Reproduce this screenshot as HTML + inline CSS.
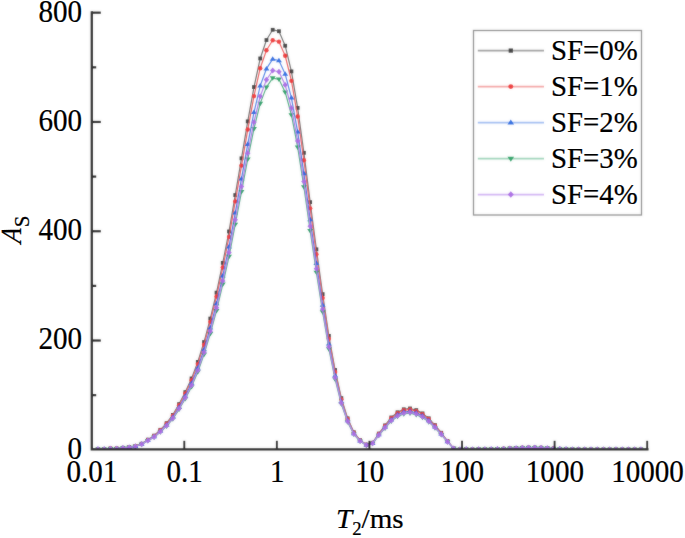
<!DOCTYPE html>
<html><head><meta charset="utf-8"><style>
html,body{margin:0;padding:0;background:#fff;}
svg{display:block;}
text{font-family:"Liberation Serif",serif;font-size:29.1px;fill:#000;stroke:#000;stroke-width:0.22px;}
</style></head><body>
<svg width="685" height="538" viewBox="0 0 685 538">
<defs><filter id="bl" x="0" y="0" width="685" height="538" filterUnits="userSpaceOnUse"><feGaussianBlur stdDeviation="1.0"/></filter></defs>
<g id="all">
<rect width="685" height="538" fill="#fff"/>
<defs><clipPath id="pc"><rect x="92.6" y="0" width="555.4" height="449.2"/></clipPath></defs><g clip-path="url(#pc)"><path d="M91.70,449.13 L97.94,449.07 L104.18,449.07 L110.42,448.47 L116.67,448.47 L122.91,447.82 L129.15,447.16 L135.39,445.96 L141.63,443.72 L147.87,439.68 L154.11,435.65 L160.35,429.81 L166.60,423.15 L172.84,414.91 L179.08,404.10 L185.32,392.09 L191.56,378.45 L197.80,361.91 L204.04,342.04 L210.29,318.57 L216.53,292.65 L222.77,262.85 L229.01,231.46 L235.25,195.06 L241.49,158.32 L247.73,121.37 L253.98,87.04 L260.22,58.44 L266.46,40.05 L272.70,29.79 L278.94,31.21 L285.18,45.73 L291.42,71.38 L297.66,107.89 L303.91,152.81 L310.15,202.15 L316.39,249.31 L322.63,294.12 L328.87,335.87 L335.11,369.99 L341.35,398.09 L347.60,418.29 L353.84,432.26 L360.08,440.18 L366.32,444.60 L372.56,442.74 L378.80,433.57 L385.04,425.38 L391.28,417.47 L397.53,412.29 L403.77,409.28 L410.01,408.46 L416.25,410.10 L422.49,413.38 L428.73,418.29 L434.97,425.11 L441.22,432.75 L447.46,440.94 L453.70,448.42 L459.94,449.40 L466.18,449.13 L472.42,449.40 L478.66,449.24 L484.90,449.24 L491.15,449.13 L497.39,448.96 L503.63,448.75 L509.87,448.42 L516.11,448.09 L522.35,447.76 L528.59,447.54 L534.84,447.54 L541.08,447.76 L547.32,448.09 L553.56,448.53 L559.80,448.85 L566.04,449.13 L572.28,449.29 L578.53,449.40 L584.77,449.40 L591.01,449.40 L597.25,449.40 L603.49,449.40 L609.73,449.40 L615.97,449.40 L622.21,449.40 L628.46,449.40 L634.70,449.40 L640.94,449.40 L647.18,449.40" fill="none" stroke="#6a6a6a" stroke-width="1.2" stroke-linejoin="round"/>
<g><rect x="96.04" y="447.17" width="3.80" height="3.80" fill="#383838"/><rect x="102.28" y="447.17" width="3.80" height="3.80" fill="#383838"/><rect x="108.52" y="446.57" width="3.80" height="3.80" fill="#383838"/><rect x="114.77" y="446.57" width="3.80" height="3.80" fill="#383838"/><rect x="121.01" y="445.92" width="3.80" height="3.80" fill="#383838"/><rect x="127.25" y="445.26" width="3.80" height="3.80" fill="#383838"/><rect x="133.49" y="444.06" width="3.80" height="3.80" fill="#383838"/><rect x="139.73" y="441.82" width="3.80" height="3.80" fill="#383838"/><rect x="145.97" y="437.78" width="3.80" height="3.80" fill="#383838"/><rect x="152.21" y="433.75" width="3.80" height="3.80" fill="#383838"/><rect x="158.45" y="427.91" width="3.80" height="3.80" fill="#383838"/><rect x="164.70" y="421.25" width="3.80" height="3.80" fill="#383838"/><rect x="170.94" y="413.01" width="3.80" height="3.80" fill="#383838"/><rect x="177.18" y="402.20" width="3.80" height="3.80" fill="#383838"/><rect x="183.42" y="390.19" width="3.80" height="3.80" fill="#383838"/><rect x="189.66" y="376.55" width="3.80" height="3.80" fill="#383838"/><rect x="195.90" y="360.01" width="3.80" height="3.80" fill="#383838"/><rect x="202.14" y="340.14" width="3.80" height="3.80" fill="#383838"/><rect x="208.39" y="316.67" width="3.80" height="3.80" fill="#383838"/><rect x="214.63" y="290.75" width="3.80" height="3.80" fill="#383838"/><rect x="220.87" y="260.95" width="3.80" height="3.80" fill="#383838"/><rect x="227.11" y="229.56" width="3.80" height="3.80" fill="#383838"/><rect x="233.35" y="193.16" width="3.80" height="3.80" fill="#383838"/><rect x="239.59" y="156.42" width="3.80" height="3.80" fill="#383838"/><rect x="245.83" y="119.47" width="3.80" height="3.80" fill="#383838"/><rect x="252.08" y="85.14" width="3.80" height="3.80" fill="#383838"/><rect x="258.32" y="56.54" width="3.80" height="3.80" fill="#383838"/><rect x="264.56" y="38.15" width="3.80" height="3.80" fill="#383838"/><rect x="270.80" y="27.89" width="3.80" height="3.80" fill="#383838"/><rect x="277.04" y="29.31" width="3.80" height="3.80" fill="#383838"/><rect x="283.28" y="43.83" width="3.80" height="3.80" fill="#383838"/><rect x="289.52" y="69.48" width="3.80" height="3.80" fill="#383838"/><rect x="295.76" y="105.99" width="3.80" height="3.80" fill="#383838"/><rect x="302.01" y="150.91" width="3.80" height="3.80" fill="#383838"/><rect x="308.25" y="200.25" width="3.80" height="3.80" fill="#383838"/><rect x="314.49" y="247.41" width="3.80" height="3.80" fill="#383838"/><rect x="320.73" y="292.22" width="3.80" height="3.80" fill="#383838"/><rect x="326.97" y="333.97" width="3.80" height="3.80" fill="#383838"/><rect x="333.21" y="368.09" width="3.80" height="3.80" fill="#383838"/><rect x="339.45" y="396.19" width="3.80" height="3.80" fill="#383838"/><rect x="345.70" y="416.39" width="3.80" height="3.80" fill="#383838"/><rect x="351.94" y="430.36" width="3.80" height="3.80" fill="#383838"/><rect x="358.18" y="438.28" width="3.80" height="3.80" fill="#383838"/><rect x="364.42" y="442.70" width="3.80" height="3.80" fill="#383838"/><rect x="370.66" y="440.84" width="3.80" height="3.80" fill="#383838"/><rect x="376.90" y="431.67" width="3.80" height="3.80" fill="#383838"/><rect x="383.14" y="423.48" width="3.80" height="3.80" fill="#383838"/><rect x="389.38" y="415.57" width="3.80" height="3.80" fill="#383838"/><rect x="395.63" y="410.39" width="3.80" height="3.80" fill="#383838"/><rect x="401.87" y="407.38" width="3.80" height="3.80" fill="#383838"/><rect x="408.11" y="406.56" width="3.80" height="3.80" fill="#383838"/><rect x="414.35" y="408.20" width="3.80" height="3.80" fill="#383838"/><rect x="420.59" y="411.48" width="3.80" height="3.80" fill="#383838"/><rect x="426.83" y="416.39" width="3.80" height="3.80" fill="#383838"/><rect x="433.07" y="423.21" width="3.80" height="3.80" fill="#383838"/><rect x="439.32" y="430.85" width="3.80" height="3.80" fill="#383838"/><rect x="445.56" y="439.04" width="3.80" height="3.80" fill="#383838"/><rect x="451.80" y="446.52" width="3.80" height="3.80" fill="#383838"/><rect x="458.04" y="447.50" width="3.80" height="3.80" fill="#383838"/><rect x="464.28" y="447.23" width="3.80" height="3.80" fill="#383838"/><rect x="470.52" y="447.50" width="3.80" height="3.80" fill="#383838"/><rect x="476.76" y="447.34" width="3.80" height="3.80" fill="#383838"/><rect x="483.00" y="447.34" width="3.80" height="3.80" fill="#383838"/><rect x="489.25" y="447.23" width="3.80" height="3.80" fill="#383838"/><rect x="495.49" y="447.06" width="3.80" height="3.80" fill="#383838"/><rect x="501.73" y="446.85" width="3.80" height="3.80" fill="#383838"/><rect x="507.97" y="446.52" width="3.80" height="3.80" fill="#383838"/><rect x="514.21" y="446.19" width="3.80" height="3.80" fill="#383838"/><rect x="520.45" y="445.86" width="3.80" height="3.80" fill="#383838"/><rect x="526.69" y="445.64" width="3.80" height="3.80" fill="#383838"/><rect x="532.94" y="445.64" width="3.80" height="3.80" fill="#383838"/><rect x="539.18" y="445.86" width="3.80" height="3.80" fill="#383838"/><rect x="545.42" y="446.19" width="3.80" height="3.80" fill="#383838"/><rect x="551.66" y="446.63" width="3.80" height="3.80" fill="#383838"/><rect x="557.90" y="446.95" width="3.80" height="3.80" fill="#383838"/><rect x="564.14" y="447.23" width="3.80" height="3.80" fill="#383838"/><rect x="570.38" y="447.39" width="3.80" height="3.80" fill="#383838"/><rect x="576.63" y="447.50" width="3.80" height="3.80" fill="#383838"/><rect x="582.87" y="447.50" width="3.80" height="3.80" fill="#383838"/><rect x="589.11" y="447.50" width="3.80" height="3.80" fill="#383838"/><rect x="595.35" y="447.50" width="3.80" height="3.80" fill="#383838"/><rect x="601.59" y="447.50" width="3.80" height="3.80" fill="#383838"/><rect x="607.83" y="447.50" width="3.80" height="3.80" fill="#383838"/><rect x="614.07" y="447.50" width="3.80" height="3.80" fill="#383838"/><rect x="620.31" y="447.50" width="3.80" height="3.80" fill="#383838"/><rect x="626.56" y="447.50" width="3.80" height="3.80" fill="#383838"/><rect x="632.80" y="447.50" width="3.80" height="3.80" fill="#383838"/><rect x="639.04" y="447.50" width="3.80" height="3.80" fill="#383838"/></g>
<path d="M91.70,449.13 L97.94,449.08 L104.18,449.08 L110.42,448.50 L116.67,448.50 L122.91,447.86 L129.15,447.22 L135.39,446.05 L141.63,443.87 L147.87,439.93 L154.11,435.99 L160.35,430.30 L166.60,423.80 L172.84,415.77 L179.08,405.23 L185.32,393.52 L191.56,380.22 L197.80,364.10 L204.04,344.73 L210.29,321.84 L216.53,296.57 L222.77,267.51 L229.01,236.91 L235.25,201.42 L241.49,165.60 L247.73,129.57 L253.98,96.10 L260.22,68.22 L266.46,50.28 L272.70,40.28 L278.94,41.66 L285.18,55.82 L291.42,80.83 L297.66,116.43 L303.91,160.23 L310.15,208.33 L316.39,254.31 L322.63,298.00 L328.87,338.71 L335.11,371.97 L341.35,399.38 L347.60,419.07 L353.84,432.69 L360.08,440.41 L366.32,444.72 L372.56,442.91 L378.80,433.97 L385.04,425.99 L391.28,418.27 L397.53,413.21 L403.77,410.29 L410.01,409.49 L416.25,411.08 L422.49,414.28 L428.73,419.07 L434.97,425.72 L441.22,433.17 L447.46,441.15 L453.70,448.44 L459.94,449.40 L466.18,449.13 L472.42,449.40 L478.66,449.24 L484.90,449.24 L491.15,449.13 L497.39,448.97 L503.63,448.76 L509.87,448.44 L516.11,448.12 L522.35,447.80 L528.59,447.59 L534.84,447.59 L541.08,447.80 L547.32,448.12 L553.56,448.55 L559.80,448.87 L566.04,449.13 L572.28,449.29 L578.53,449.40 L584.77,449.40 L591.01,449.40 L597.25,449.40 L603.49,449.40 L609.73,449.40 L615.97,449.40 L622.21,449.40 L628.46,449.40 L634.70,449.40 L640.94,449.40 L647.18,449.40" fill="none" stroke="#ee5a5a" stroke-width="1.2" stroke-linejoin="round"/>
<g><circle cx="97.94" cy="449.08" r="2.20" fill="#ee3030"/><circle cx="104.18" cy="449.08" r="2.20" fill="#ee3030"/><circle cx="110.42" cy="448.50" r="2.20" fill="#ee3030"/><circle cx="116.67" cy="448.50" r="2.20" fill="#ee3030"/><circle cx="122.91" cy="447.86" r="2.20" fill="#ee3030"/><circle cx="129.15" cy="447.22" r="2.20" fill="#ee3030"/><circle cx="135.39" cy="446.05" r="2.20" fill="#ee3030"/><circle cx="141.63" cy="443.87" r="2.20" fill="#ee3030"/><circle cx="147.87" cy="439.93" r="2.20" fill="#ee3030"/><circle cx="154.11" cy="435.99" r="2.20" fill="#ee3030"/><circle cx="160.35" cy="430.30" r="2.20" fill="#ee3030"/><circle cx="166.60" cy="423.80" r="2.20" fill="#ee3030"/><circle cx="172.84" cy="415.77" r="2.20" fill="#ee3030"/><circle cx="179.08" cy="405.23" r="2.20" fill="#ee3030"/><circle cx="185.32" cy="393.52" r="2.20" fill="#ee3030"/><circle cx="191.56" cy="380.22" r="2.20" fill="#ee3030"/><circle cx="197.80" cy="364.10" r="2.20" fill="#ee3030"/><circle cx="204.04" cy="344.73" r="2.20" fill="#ee3030"/><circle cx="210.29" cy="321.84" r="2.20" fill="#ee3030"/><circle cx="216.53" cy="296.57" r="2.20" fill="#ee3030"/><circle cx="222.77" cy="267.51" r="2.20" fill="#ee3030"/><circle cx="229.01" cy="236.91" r="2.20" fill="#ee3030"/><circle cx="235.25" cy="201.42" r="2.20" fill="#ee3030"/><circle cx="241.49" cy="165.60" r="2.20" fill="#ee3030"/><circle cx="247.73" cy="129.57" r="2.20" fill="#ee3030"/><circle cx="253.98" cy="96.10" r="2.20" fill="#ee3030"/><circle cx="260.22" cy="68.22" r="2.20" fill="#ee3030"/><circle cx="266.46" cy="50.28" r="2.20" fill="#ee3030"/><circle cx="272.70" cy="40.28" r="2.20" fill="#ee3030"/><circle cx="278.94" cy="41.66" r="2.20" fill="#ee3030"/><circle cx="285.18" cy="55.82" r="2.20" fill="#ee3030"/><circle cx="291.42" cy="80.83" r="2.20" fill="#ee3030"/><circle cx="297.66" cy="116.43" r="2.20" fill="#ee3030"/><circle cx="303.91" cy="160.23" r="2.20" fill="#ee3030"/><circle cx="310.15" cy="208.33" r="2.20" fill="#ee3030"/><circle cx="316.39" cy="254.31" r="2.20" fill="#ee3030"/><circle cx="322.63" cy="298.00" r="2.20" fill="#ee3030"/><circle cx="328.87" cy="338.71" r="2.20" fill="#ee3030"/><circle cx="335.11" cy="371.97" r="2.20" fill="#ee3030"/><circle cx="341.35" cy="399.38" r="2.20" fill="#ee3030"/><circle cx="347.60" cy="419.07" r="2.20" fill="#ee3030"/><circle cx="353.84" cy="432.69" r="2.20" fill="#ee3030"/><circle cx="360.08" cy="440.41" r="2.20" fill="#ee3030"/><circle cx="366.32" cy="444.72" r="2.20" fill="#ee3030"/><circle cx="372.56" cy="442.91" r="2.20" fill="#ee3030"/><circle cx="378.80" cy="433.97" r="2.20" fill="#ee3030"/><circle cx="385.04" cy="425.99" r="2.20" fill="#ee3030"/><circle cx="391.28" cy="418.27" r="2.20" fill="#ee3030"/><circle cx="397.53" cy="413.21" r="2.20" fill="#ee3030"/><circle cx="403.77" cy="410.29" r="2.20" fill="#ee3030"/><circle cx="410.01" cy="409.49" r="2.20" fill="#ee3030"/><circle cx="416.25" cy="411.08" r="2.20" fill="#ee3030"/><circle cx="422.49" cy="414.28" r="2.20" fill="#ee3030"/><circle cx="428.73" cy="419.07" r="2.20" fill="#ee3030"/><circle cx="434.97" cy="425.72" r="2.20" fill="#ee3030"/><circle cx="441.22" cy="433.17" r="2.20" fill="#ee3030"/><circle cx="447.46" cy="441.15" r="2.20" fill="#ee3030"/><circle cx="453.70" cy="448.44" r="2.20" fill="#ee3030"/><circle cx="459.94" cy="449.40" r="2.20" fill="#ee3030"/><circle cx="466.18" cy="449.13" r="2.20" fill="#ee3030"/><circle cx="472.42" cy="449.40" r="2.20" fill="#ee3030"/><circle cx="478.66" cy="449.24" r="2.20" fill="#ee3030"/><circle cx="484.90" cy="449.24" r="2.20" fill="#ee3030"/><circle cx="491.15" cy="449.13" r="2.20" fill="#ee3030"/><circle cx="497.39" cy="448.97" r="2.20" fill="#ee3030"/><circle cx="503.63" cy="448.76" r="2.20" fill="#ee3030"/><circle cx="509.87" cy="448.44" r="2.20" fill="#ee3030"/><circle cx="516.11" cy="448.12" r="2.20" fill="#ee3030"/><circle cx="522.35" cy="447.80" r="2.20" fill="#ee3030"/><circle cx="528.59" cy="447.59" r="2.20" fill="#ee3030"/><circle cx="534.84" cy="447.59" r="2.20" fill="#ee3030"/><circle cx="541.08" cy="447.80" r="2.20" fill="#ee3030"/><circle cx="547.32" cy="448.12" r="2.20" fill="#ee3030"/><circle cx="553.56" cy="448.55" r="2.20" fill="#ee3030"/><circle cx="559.80" cy="448.87" r="2.20" fill="#ee3030"/><circle cx="566.04" cy="449.13" r="2.20" fill="#ee3030"/><circle cx="572.28" cy="449.29" r="2.20" fill="#ee3030"/><circle cx="578.53" cy="449.40" r="2.20" fill="#ee3030"/><circle cx="584.77" cy="449.40" r="2.20" fill="#ee3030"/><circle cx="591.01" cy="449.40" r="2.20" fill="#ee3030"/><circle cx="597.25" cy="449.40" r="2.20" fill="#ee3030"/><circle cx="603.49" cy="449.40" r="2.20" fill="#ee3030"/><circle cx="609.73" cy="449.40" r="2.20" fill="#ee3030"/><circle cx="615.97" cy="449.40" r="2.20" fill="#ee3030"/><circle cx="622.21" cy="449.40" r="2.20" fill="#ee3030"/><circle cx="628.46" cy="449.40" r="2.20" fill="#ee3030"/><circle cx="634.70" cy="449.40" r="2.20" fill="#ee3030"/><circle cx="640.94" cy="449.40" r="2.20" fill="#ee3030"/></g>
<path d="M91.70,449.15 L97.94,449.10 L104.18,449.10 L110.42,448.54 L116.67,448.54 L122.91,447.93 L129.15,447.32 L135.39,446.20 L141.63,444.12 L147.87,440.36 L154.11,436.61 L160.35,431.18 L166.60,424.98 L172.84,417.32 L179.08,407.27 L185.32,396.10 L191.56,383.41 L197.80,368.03 L204.04,349.56 L210.29,327.73 L216.53,303.62 L222.77,275.90 L229.01,246.72 L235.25,212.86 L241.49,178.70 L247.73,144.34 L253.98,112.41 L260.22,85.81 L266.46,68.70 L272.70,59.16 L278.94,60.48 L285.18,73.98 L291.42,97.84 L297.66,131.80 L303.91,173.57 L310.15,219.46 L316.39,263.32 L322.63,304.99 L328.87,343.82 L335.11,375.55 L341.35,401.69 L347.60,420.47 L353.84,433.46 L360.08,440.82 L366.32,444.93 L372.56,443.21 L378.80,434.68 L385.04,427.07 L391.28,419.71 L397.53,414.88 L403.77,412.09 L410.01,411.33 L416.25,412.85 L422.49,415.90 L428.73,420.47 L434.97,426.81 L441.22,433.92 L447.46,441.53 L453.70,448.49 L459.94,449.40 L466.18,449.15 L472.42,449.40 L478.66,449.25 L484.90,449.25 L491.15,449.15 L497.39,448.99 L503.63,448.79 L509.87,448.49 L516.11,448.18 L522.35,447.88 L528.59,447.67 L534.84,447.67 L541.08,447.88 L547.32,448.18 L553.56,448.59 L559.80,448.89 L566.04,449.15 L572.28,449.30 L578.53,449.40 L584.77,449.40 L591.01,449.40 L597.25,449.40 L603.49,449.40 L609.73,449.40 L615.97,449.40 L622.21,449.40 L628.46,449.40 L634.70,449.40 L640.94,449.40 L647.18,449.40" fill="none" stroke="#4a80e6" stroke-width="1.2" stroke-linejoin="round"/>
<g><path d="M97.94,446.30L100.88,450.78L95.00,450.78Z" fill="#2066e0"/><path d="M104.18,446.30L107.12,450.78L101.24,450.78Z" fill="#2066e0"/><path d="M110.42,445.74L113.36,450.22L107.48,450.22Z" fill="#2066e0"/><path d="M116.67,445.74L119.61,450.22L113.73,450.22Z" fill="#2066e0"/><path d="M122.91,445.13L125.85,449.61L119.97,449.61Z" fill="#2066e0"/><path d="M129.15,444.52L132.09,449.00L126.21,449.00Z" fill="#2066e0"/><path d="M135.39,443.40L138.33,447.88L132.45,447.88Z" fill="#2066e0"/><path d="M141.63,441.32L144.57,445.80L138.69,445.80Z" fill="#2066e0"/><path d="M147.87,437.56L150.81,442.04L144.93,442.04Z" fill="#2066e0"/><path d="M154.11,433.81L157.05,438.29L151.17,438.29Z" fill="#2066e0"/><path d="M160.35,428.38L163.29,432.86L157.41,432.86Z" fill="#2066e0"/><path d="M166.60,422.18L169.54,426.66L163.66,426.66Z" fill="#2066e0"/><path d="M172.84,414.52L175.78,419.00L169.90,419.00Z" fill="#2066e0"/><path d="M179.08,404.47L182.02,408.95L176.14,408.95Z" fill="#2066e0"/><path d="M185.32,393.30L188.26,397.78L182.38,397.78Z" fill="#2066e0"/><path d="M191.56,380.61L194.50,385.09L188.62,385.09Z" fill="#2066e0"/><path d="M197.80,365.23L200.74,369.71L194.86,369.71Z" fill="#2066e0"/><path d="M204.04,346.76L206.98,351.24L201.10,351.24Z" fill="#2066e0"/><path d="M210.29,324.93L213.23,329.41L207.35,329.41Z" fill="#2066e0"/><path d="M216.53,300.82L219.47,305.30L213.59,305.30Z" fill="#2066e0"/><path d="M222.77,273.10L225.71,277.58L219.83,277.58Z" fill="#2066e0"/><path d="M229.01,243.92L231.95,248.40L226.07,248.40Z" fill="#2066e0"/><path d="M235.25,210.06L238.19,214.54L232.31,214.54Z" fill="#2066e0"/><path d="M241.49,175.90L244.43,180.38L238.55,180.38Z" fill="#2066e0"/><path d="M247.73,141.54L250.67,146.02L244.79,146.02Z" fill="#2066e0"/><path d="M253.98,109.61L256.92,114.09L251.04,114.09Z" fill="#2066e0"/><path d="M260.22,83.01L263.16,87.49L257.28,87.49Z" fill="#2066e0"/><path d="M266.46,65.90L269.40,70.38L263.52,70.38Z" fill="#2066e0"/><path d="M272.70,56.36L275.64,60.84L269.76,60.84Z" fill="#2066e0"/><path d="M278.94,57.68L281.88,62.16L276.00,62.16Z" fill="#2066e0"/><path d="M285.18,71.18L288.12,75.66L282.24,75.66Z" fill="#2066e0"/><path d="M291.42,95.04L294.36,99.52L288.48,99.52Z" fill="#2066e0"/><path d="M297.66,129.00L300.60,133.48L294.72,133.48Z" fill="#2066e0"/><path d="M303.91,170.77L306.85,175.25L300.97,175.25Z" fill="#2066e0"/><path d="M310.15,216.66L313.09,221.14L307.21,221.14Z" fill="#2066e0"/><path d="M316.39,260.52L319.33,265.00L313.45,265.00Z" fill="#2066e0"/><path d="M322.63,302.19L325.57,306.67L319.69,306.67Z" fill="#2066e0"/><path d="M328.87,341.02L331.81,345.50L325.93,345.50Z" fill="#2066e0"/><path d="M335.11,372.75L338.05,377.23L332.17,377.23Z" fill="#2066e0"/><path d="M341.35,398.89L344.29,403.37L338.41,403.37Z" fill="#2066e0"/><path d="M347.60,417.67L350.54,422.15L344.66,422.15Z" fill="#2066e0"/><path d="M353.84,430.66L356.78,435.14L350.90,435.14Z" fill="#2066e0"/><path d="M360.08,438.02L363.02,442.50L357.14,442.50Z" fill="#2066e0"/><path d="M366.32,442.13L369.26,446.61L363.38,446.61Z" fill="#2066e0"/><path d="M372.56,440.41L375.50,444.89L369.62,444.89Z" fill="#2066e0"/><path d="M378.80,431.88L381.74,436.36L375.86,436.36Z" fill="#2066e0"/><path d="M385.04,424.27L387.98,428.75L382.10,428.75Z" fill="#2066e0"/><path d="M391.28,416.91L394.22,421.39L388.34,421.39Z" fill="#2066e0"/><path d="M397.53,412.08L400.47,416.56L394.59,416.56Z" fill="#2066e0"/><path d="M403.77,409.29L406.71,413.77L400.83,413.77Z" fill="#2066e0"/><path d="M410.01,408.53L412.95,413.01L407.07,413.01Z" fill="#2066e0"/><path d="M416.25,410.05L419.19,414.53L413.31,414.53Z" fill="#2066e0"/><path d="M422.49,413.10L425.43,417.58L419.55,417.58Z" fill="#2066e0"/><path d="M428.73,417.67L431.67,422.15L425.79,422.15Z" fill="#2066e0"/><path d="M434.97,424.01L437.91,428.49L432.03,428.49Z" fill="#2066e0"/><path d="M441.22,431.12L444.16,435.60L438.28,435.60Z" fill="#2066e0"/><path d="M447.46,438.73L450.40,443.21L444.52,443.21Z" fill="#2066e0"/><path d="M453.70,445.69L456.64,450.17L450.76,450.17Z" fill="#2066e0"/><path d="M459.94,446.60L462.88,451.08L457.00,451.08Z" fill="#2066e0"/><path d="M466.18,446.35L469.12,450.83L463.24,450.83Z" fill="#2066e0"/><path d="M472.42,446.60L475.36,451.08L469.48,451.08Z" fill="#2066e0"/><path d="M478.66,446.45L481.60,450.93L475.72,450.93Z" fill="#2066e0"/><path d="M484.90,446.45L487.84,450.93L481.96,450.93Z" fill="#2066e0"/><path d="M491.15,446.35L494.09,450.83L488.21,450.83Z" fill="#2066e0"/><path d="M497.39,446.19L500.33,450.67L494.45,450.67Z" fill="#2066e0"/><path d="M503.63,445.99L506.57,450.47L500.69,450.47Z" fill="#2066e0"/><path d="M509.87,445.69L512.81,450.17L506.93,450.17Z" fill="#2066e0"/><path d="M516.11,445.38L519.05,449.86L513.17,449.86Z" fill="#2066e0"/><path d="M522.35,445.08L525.29,449.56L519.41,449.56Z" fill="#2066e0"/><path d="M528.59,444.87L531.53,449.35L525.65,449.35Z" fill="#2066e0"/><path d="M534.84,444.87L537.78,449.35L531.90,449.35Z" fill="#2066e0"/><path d="M541.08,445.08L544.02,449.56L538.14,449.56Z" fill="#2066e0"/><path d="M547.32,445.38L550.26,449.86L544.38,449.86Z" fill="#2066e0"/><path d="M553.56,445.79L556.50,450.27L550.62,450.27Z" fill="#2066e0"/><path d="M559.80,446.09L562.74,450.57L556.86,450.57Z" fill="#2066e0"/><path d="M566.04,446.35L568.98,450.83L563.10,450.83Z" fill="#2066e0"/><path d="M572.28,446.50L575.22,450.98L569.34,450.98Z" fill="#2066e0"/><path d="M578.53,446.60L581.47,451.08L575.59,451.08Z" fill="#2066e0"/><path d="M584.77,446.60L587.71,451.08L581.83,451.08Z" fill="#2066e0"/><path d="M591.01,446.60L593.95,451.08L588.07,451.08Z" fill="#2066e0"/><path d="M597.25,446.60L600.19,451.08L594.31,451.08Z" fill="#2066e0"/><path d="M603.49,446.60L606.43,451.08L600.55,451.08Z" fill="#2066e0"/><path d="M609.73,446.60L612.67,451.08L606.79,451.08Z" fill="#2066e0"/><path d="M615.97,446.60L618.91,451.08L613.03,451.08Z" fill="#2066e0"/><path d="M622.21,446.60L625.15,451.08L619.27,451.08Z" fill="#2066e0"/><path d="M628.46,446.60L631.40,451.08L625.52,451.08Z" fill="#2066e0"/><path d="M634.70,446.60L637.64,451.08L631.76,451.08Z" fill="#2066e0"/><path d="M640.94,446.60L643.88,451.08L638.00,451.08Z" fill="#2066e0"/></g>
<path d="M91.70,449.16 L97.94,449.11 L104.18,449.11 L110.42,448.58 L116.67,448.58 L122.91,448.00 L129.15,447.42 L135.39,446.36 L141.63,444.38 L147.87,440.80 L154.11,437.23 L160.35,432.06 L166.60,426.17 L172.84,418.87 L179.08,409.31 L185.32,398.68 L191.56,386.61 L197.80,371.97 L204.04,354.39 L210.29,333.62 L216.53,310.67 L222.77,284.30 L229.01,256.52 L235.25,224.31 L241.49,191.80 L247.73,159.10 L253.98,128.71 L260.22,103.40 L266.46,87.13 L272.70,78.04 L278.94,79.30 L285.18,92.15 L291.42,114.85 L297.66,147.17 L303.91,186.92 L310.15,230.59 L316.39,272.32 L322.63,311.98 L328.87,348.93 L335.11,379.12 L341.35,403.99 L347.60,421.87 L353.84,434.23 L360.08,441.24 L366.32,445.15 L372.56,443.51 L378.80,435.39 L385.04,428.15 L391.28,421.14 L397.53,416.55 L403.77,413.90 L410.01,413.17 L416.25,414.62 L422.49,417.52 L428.73,421.87 L434.97,427.91 L441.22,434.67 L447.46,441.91 L453.70,448.53 L459.94,449.40 L466.18,449.16 L472.42,449.40 L478.66,449.26 L484.90,449.26 L491.15,449.16 L497.39,449.01 L503.63,448.82 L509.87,448.53 L516.11,448.24 L522.35,447.95 L528.59,447.76 L534.84,447.76 L541.08,447.95 L547.32,448.24 L553.56,448.63 L559.80,448.92 L566.04,449.16 L572.28,449.30 L578.53,449.40 L584.77,449.40 L591.01,449.40 L597.25,449.40 L603.49,449.40 L609.73,449.40 L615.97,449.40 L622.21,449.40 L628.46,449.40 L634.70,449.40 L640.94,449.40 L647.18,449.40" fill="none" stroke="#4aae7e" stroke-width="1.2" stroke-linejoin="round"/>
<g><path d="M97.94,451.91L100.88,447.43L95.00,447.43Z" fill="#22a062"/><path d="M104.18,451.91L107.12,447.43L101.24,447.43Z" fill="#22a062"/><path d="M110.42,451.38L113.36,446.90L107.48,446.90Z" fill="#22a062"/><path d="M116.67,451.38L119.61,446.90L113.73,446.90Z" fill="#22a062"/><path d="M122.91,450.80L125.85,446.32L119.97,446.32Z" fill="#22a062"/><path d="M129.15,450.22L132.09,445.74L126.21,445.74Z" fill="#22a062"/><path d="M135.39,449.16L138.33,444.68L132.45,444.68Z" fill="#22a062"/><path d="M141.63,447.18L144.57,442.70L138.69,442.70Z" fill="#22a062"/><path d="M147.87,443.60L150.81,439.12L144.93,439.12Z" fill="#22a062"/><path d="M154.11,440.03L157.05,435.55L151.17,435.55Z" fill="#22a062"/><path d="M160.35,434.86L163.29,430.38L157.41,430.38Z" fill="#22a062"/><path d="M166.60,428.97L169.54,424.49L163.66,424.49Z" fill="#22a062"/><path d="M172.84,421.67L175.78,417.19L169.90,417.19Z" fill="#22a062"/><path d="M179.08,412.11L182.02,407.63L176.14,407.63Z" fill="#22a062"/><path d="M185.32,401.48L188.26,397.00L182.38,397.00Z" fill="#22a062"/><path d="M191.56,389.41L194.50,384.93L188.62,384.93Z" fill="#22a062"/><path d="M197.80,374.77L200.74,370.29L194.86,370.29Z" fill="#22a062"/><path d="M204.04,357.19L206.98,352.71L201.10,352.71Z" fill="#22a062"/><path d="M210.29,336.42L213.23,331.94L207.35,331.94Z" fill="#22a062"/><path d="M216.53,313.47L219.47,308.99L213.59,308.99Z" fill="#22a062"/><path d="M222.77,287.10L225.71,282.62L219.83,282.62Z" fill="#22a062"/><path d="M229.01,259.32L231.95,254.84L226.07,254.84Z" fill="#22a062"/><path d="M235.25,227.11L238.19,222.63L232.31,222.63Z" fill="#22a062"/><path d="M241.49,194.60L244.43,190.12L238.55,190.12Z" fill="#22a062"/><path d="M247.73,161.90L250.67,157.42L244.79,157.42Z" fill="#22a062"/><path d="M253.98,131.51L256.92,127.03L251.04,127.03Z" fill="#22a062"/><path d="M260.22,106.20L263.16,101.72L257.28,101.72Z" fill="#22a062"/><path d="M266.46,89.93L269.40,85.45L263.52,85.45Z" fill="#22a062"/><path d="M272.70,80.84L275.64,76.36L269.76,76.36Z" fill="#22a062"/><path d="M278.94,82.10L281.88,77.62L276.00,77.62Z" fill="#22a062"/><path d="M285.18,94.95L288.12,90.47L282.24,90.47Z" fill="#22a062"/><path d="M291.42,117.65L294.36,113.17L288.48,113.17Z" fill="#22a062"/><path d="M297.66,149.97L300.60,145.49L294.72,145.49Z" fill="#22a062"/><path d="M303.91,189.72L306.85,185.24L300.97,185.24Z" fill="#22a062"/><path d="M310.15,233.39L313.09,228.91L307.21,228.91Z" fill="#22a062"/><path d="M316.39,275.12L319.33,270.64L313.45,270.64Z" fill="#22a062"/><path d="M322.63,314.78L325.57,310.30L319.69,310.30Z" fill="#22a062"/><path d="M328.87,351.73L331.81,347.25L325.93,347.25Z" fill="#22a062"/><path d="M335.11,381.92L338.05,377.44L332.17,377.44Z" fill="#22a062"/><path d="M341.35,406.79L344.29,402.31L338.41,402.31Z" fill="#22a062"/><path d="M347.60,424.67L350.54,420.19L344.66,420.19Z" fill="#22a062"/><path d="M353.84,437.03L356.78,432.55L350.90,432.55Z" fill="#22a062"/><path d="M360.08,444.04L363.02,439.56L357.14,439.56Z" fill="#22a062"/><path d="M366.32,447.95L369.26,443.47L363.38,443.47Z" fill="#22a062"/><path d="M372.56,446.31L375.50,441.83L369.62,441.83Z" fill="#22a062"/><path d="M378.80,438.19L381.74,433.71L375.86,433.71Z" fill="#22a062"/><path d="M385.04,430.95L387.98,426.47L382.10,426.47Z" fill="#22a062"/><path d="M391.28,423.94L394.22,419.46L388.34,419.46Z" fill="#22a062"/><path d="M397.53,419.35L400.47,414.87L394.59,414.87Z" fill="#22a062"/><path d="M403.77,416.70L406.71,412.22L400.83,412.22Z" fill="#22a062"/><path d="M410.01,415.97L412.95,411.49L407.07,411.49Z" fill="#22a062"/><path d="M416.25,417.42L419.19,412.94L413.31,412.94Z" fill="#22a062"/><path d="M422.49,420.32L425.43,415.84L419.55,415.84Z" fill="#22a062"/><path d="M428.73,424.67L431.67,420.19L425.79,420.19Z" fill="#22a062"/><path d="M434.97,430.71L437.91,426.23L432.03,426.23Z" fill="#22a062"/><path d="M441.22,437.47L444.16,432.99L438.28,432.99Z" fill="#22a062"/><path d="M447.46,444.71L450.40,440.23L444.52,440.23Z" fill="#22a062"/><path d="M453.70,451.33L456.64,446.85L450.76,446.85Z" fill="#22a062"/><path d="M459.94,452.20L462.88,447.72L457.00,447.72Z" fill="#22a062"/><path d="M466.18,451.96L469.12,447.48L463.24,447.48Z" fill="#22a062"/><path d="M472.42,452.20L475.36,447.72L469.48,447.72Z" fill="#22a062"/><path d="M478.66,452.06L481.60,447.58L475.72,447.58Z" fill="#22a062"/><path d="M484.90,452.06L487.84,447.58L481.96,447.58Z" fill="#22a062"/><path d="M491.15,451.96L494.09,447.48L488.21,447.48Z" fill="#22a062"/><path d="M497.39,451.81L500.33,447.33L494.45,447.33Z" fill="#22a062"/><path d="M503.63,451.62L506.57,447.14L500.69,447.14Z" fill="#22a062"/><path d="M509.87,451.33L512.81,446.85L506.93,446.85Z" fill="#22a062"/><path d="M516.11,451.04L519.05,446.56L513.17,446.56Z" fill="#22a062"/><path d="M522.35,450.75L525.29,446.27L519.41,446.27Z" fill="#22a062"/><path d="M528.59,450.56L531.53,446.08L525.65,446.08Z" fill="#22a062"/><path d="M534.84,450.56L537.78,446.08L531.90,446.08Z" fill="#22a062"/><path d="M541.08,450.75L544.02,446.27L538.14,446.27Z" fill="#22a062"/><path d="M547.32,451.04L550.26,446.56L544.38,446.56Z" fill="#22a062"/><path d="M553.56,451.43L556.50,446.95L550.62,446.95Z" fill="#22a062"/><path d="M559.80,451.72L562.74,447.24L556.86,447.24Z" fill="#22a062"/><path d="M566.04,451.96L568.98,447.48L563.10,447.48Z" fill="#22a062"/><path d="M572.28,452.10L575.22,447.62L569.34,447.62Z" fill="#22a062"/><path d="M578.53,452.20L581.47,447.72L575.59,447.72Z" fill="#22a062"/><path d="M584.77,452.20L587.71,447.72L581.83,447.72Z" fill="#22a062"/><path d="M591.01,452.20L593.95,447.72L588.07,447.72Z" fill="#22a062"/><path d="M597.25,452.20L600.19,447.72L594.31,447.72Z" fill="#22a062"/><path d="M603.49,452.20L606.43,447.72L600.55,447.72Z" fill="#22a062"/><path d="M609.73,452.20L612.67,447.72L606.79,447.72Z" fill="#22a062"/><path d="M615.97,452.20L618.91,447.72L613.03,447.72Z" fill="#22a062"/><path d="M622.21,452.20L625.15,447.72L619.27,447.72Z" fill="#22a062"/><path d="M628.46,452.20L631.40,447.72L625.52,447.72Z" fill="#22a062"/><path d="M634.70,452.20L637.64,447.72L631.76,447.72Z" fill="#22a062"/><path d="M640.94,452.20L643.88,447.72L638.00,447.72Z" fill="#22a062"/></g>
<path d="M91.70,449.15 L97.94,449.10 L104.18,449.10 L110.42,448.56 L116.67,448.56 L122.91,447.97 L129.15,447.38 L135.39,446.29 L141.63,444.27 L147.87,440.63 L154.11,436.98 L160.35,431.71 L166.60,425.69 L172.84,418.25 L179.08,408.49 L185.32,397.65 L191.56,385.33 L197.80,370.39 L204.04,352.45 L210.29,331.26 L216.53,307.85 L222.77,280.94 L229.01,252.60 L235.25,219.73 L241.49,186.56 L247.73,153.19 L253.98,122.19 L260.22,96.37 L266.46,79.76 L272.70,70.49 L278.94,71.77 L285.18,84.88 L291.42,108.05 L297.66,141.02 L303.91,181.58 L310.15,226.14 L316.39,268.72 L322.63,309.18 L328.87,346.89 L335.11,377.69 L341.35,403.07 L347.60,421.31 L353.84,433.92 L360.08,441.07 L366.32,445.06 L372.56,443.39 L378.80,435.11 L385.04,427.71 L391.28,420.57 L397.53,415.89 L403.77,413.17 L410.01,412.44 L416.25,413.91 L422.49,416.87 L428.73,421.31 L434.97,427.47 L441.22,434.37 L447.46,441.76 L453.70,448.51 L459.94,449.40 L466.18,449.15 L472.42,449.40 L478.66,449.25 L484.90,449.25 L491.15,449.15 L497.39,449.01 L503.63,448.81 L509.87,448.51 L516.11,448.22 L522.35,447.92 L528.59,447.72 L534.84,447.72 L541.08,447.92 L547.32,448.22 L553.56,448.61 L559.80,448.91 L566.04,449.15 L572.28,449.30 L578.53,449.40 L584.77,449.40 L591.01,449.40 L597.25,449.40 L603.49,449.40 L609.73,449.40 L615.97,449.40 L622.21,449.40 L628.46,449.40 L634.70,449.40 L640.94,449.40 L647.18,449.40" fill="none" stroke="#b27ee8" stroke-width="1.2" stroke-linejoin="round"/>
<g><path d="M97.94,446.20L100.64,449.10L97.94,452.00L95.24,449.10Z" fill="#aa6ae4"/><path d="M104.18,446.20L106.88,449.10L104.18,452.00L101.48,449.10Z" fill="#aa6ae4"/><path d="M110.42,445.66L113.12,448.56L110.42,451.46L107.72,448.56Z" fill="#aa6ae4"/><path d="M116.67,445.66L119.37,448.56L116.67,451.46L113.97,448.56Z" fill="#aa6ae4"/><path d="M122.91,445.07L125.61,447.97L122.91,450.87L120.21,447.97Z" fill="#aa6ae4"/><path d="M129.15,444.48L131.85,447.38L129.15,450.28L126.45,447.38Z" fill="#aa6ae4"/><path d="M135.39,443.39L138.09,446.29L135.39,449.19L132.69,446.29Z" fill="#aa6ae4"/><path d="M141.63,441.37L144.33,444.27L141.63,447.17L138.93,444.27Z" fill="#aa6ae4"/><path d="M147.87,437.73L150.57,440.63L147.87,443.53L145.17,440.63Z" fill="#aa6ae4"/><path d="M154.11,434.08L156.81,436.98L154.11,439.88L151.41,436.98Z" fill="#aa6ae4"/><path d="M160.35,428.81L163.05,431.71L160.35,434.61L157.65,431.71Z" fill="#aa6ae4"/><path d="M166.60,422.79L169.30,425.69L166.60,428.59L163.90,425.69Z" fill="#aa6ae4"/><path d="M172.84,415.35L175.54,418.25L172.84,421.15L170.14,418.25Z" fill="#aa6ae4"/><path d="M179.08,405.59L181.78,408.49L179.08,411.39L176.38,408.49Z" fill="#aa6ae4"/><path d="M185.32,394.75L188.02,397.65L185.32,400.55L182.62,397.65Z" fill="#aa6ae4"/><path d="M191.56,382.43L194.26,385.33L191.56,388.23L188.86,385.33Z" fill="#aa6ae4"/><path d="M197.80,367.49L200.50,370.39L197.80,373.29L195.10,370.39Z" fill="#aa6ae4"/><path d="M204.04,349.55L206.74,352.45L204.04,355.35L201.34,352.45Z" fill="#aa6ae4"/><path d="M210.29,328.36L212.99,331.26L210.29,334.16L207.59,331.26Z" fill="#aa6ae4"/><path d="M216.53,304.95L219.23,307.85L216.53,310.75L213.83,307.85Z" fill="#aa6ae4"/><path d="M222.77,278.04L225.47,280.94L222.77,283.84L220.07,280.94Z" fill="#aa6ae4"/><path d="M229.01,249.70L231.71,252.60L229.01,255.50L226.31,252.60Z" fill="#aa6ae4"/><path d="M235.25,216.83L237.95,219.73L235.25,222.63L232.55,219.73Z" fill="#aa6ae4"/><path d="M241.49,183.66L244.19,186.56L241.49,189.46L238.79,186.56Z" fill="#aa6ae4"/><path d="M247.73,150.29L250.43,153.19L247.73,156.09L245.03,153.19Z" fill="#aa6ae4"/><path d="M253.98,119.29L256.68,122.19L253.98,125.09L251.28,122.19Z" fill="#aa6ae4"/><path d="M260.22,93.47L262.92,96.37L260.22,99.27L257.52,96.37Z" fill="#aa6ae4"/><path d="M266.46,76.86L269.16,79.76L266.46,82.66L263.76,79.76Z" fill="#aa6ae4"/><path d="M272.70,67.59L275.40,70.49L272.70,73.39L270.00,70.49Z" fill="#aa6ae4"/><path d="M278.94,68.87L281.64,71.77L278.94,74.67L276.24,71.77Z" fill="#aa6ae4"/><path d="M285.18,81.98L287.88,84.88L285.18,87.78L282.48,84.88Z" fill="#aa6ae4"/><path d="M291.42,105.15L294.12,108.05L291.42,110.95L288.72,108.05Z" fill="#aa6ae4"/><path d="M297.66,138.12L300.36,141.02L297.66,143.92L294.96,141.02Z" fill="#aa6ae4"/><path d="M303.91,178.68L306.61,181.58L303.91,184.48L301.21,181.58Z" fill="#aa6ae4"/><path d="M310.15,223.24L312.85,226.14L310.15,229.04L307.45,226.14Z" fill="#aa6ae4"/><path d="M316.39,265.82L319.09,268.72L316.39,271.62L313.69,268.72Z" fill="#aa6ae4"/><path d="M322.63,306.28L325.33,309.18L322.63,312.08L319.93,309.18Z" fill="#aa6ae4"/><path d="M328.87,343.99L331.57,346.89L328.87,349.79L326.17,346.89Z" fill="#aa6ae4"/><path d="M335.11,374.79L337.81,377.69L335.11,380.59L332.41,377.69Z" fill="#aa6ae4"/><path d="M341.35,400.17L344.05,403.07L341.35,405.97L338.65,403.07Z" fill="#aa6ae4"/><path d="M347.60,418.41L350.30,421.31L347.60,424.21L344.90,421.31Z" fill="#aa6ae4"/><path d="M353.84,431.02L356.54,433.92L353.84,436.82L351.14,433.92Z" fill="#aa6ae4"/><path d="M360.08,438.17L362.78,441.07L360.08,443.97L357.38,441.07Z" fill="#aa6ae4"/><path d="M366.32,442.16L369.02,445.06L366.32,447.96L363.62,445.06Z" fill="#aa6ae4"/><path d="M372.56,440.49L375.26,443.39L372.56,446.29L369.86,443.39Z" fill="#aa6ae4"/><path d="M378.80,432.21L381.50,435.11L378.80,438.01L376.10,435.11Z" fill="#aa6ae4"/><path d="M385.04,424.81L387.74,427.71L385.04,430.61L382.34,427.71Z" fill="#aa6ae4"/><path d="M391.28,417.67L393.98,420.57L391.28,423.47L388.58,420.57Z" fill="#aa6ae4"/><path d="M397.53,412.99L400.23,415.89L397.53,418.79L394.83,415.89Z" fill="#aa6ae4"/><path d="M403.77,410.27L406.47,413.17L403.77,416.07L401.07,413.17Z" fill="#aa6ae4"/><path d="M410.01,409.54L412.71,412.44L410.01,415.34L407.31,412.44Z" fill="#aa6ae4"/><path d="M416.25,411.01L418.95,413.91L416.25,416.81L413.55,413.91Z" fill="#aa6ae4"/><path d="M422.49,413.97L425.19,416.87L422.49,419.77L419.79,416.87Z" fill="#aa6ae4"/><path d="M428.73,418.41L431.43,421.31L428.73,424.21L426.03,421.31Z" fill="#aa6ae4"/><path d="M434.97,424.57L437.67,427.47L434.97,430.37L432.27,427.47Z" fill="#aa6ae4"/><path d="M441.22,431.47L443.92,434.37L441.22,437.27L438.52,434.37Z" fill="#aa6ae4"/><path d="M447.46,438.86L450.16,441.76L447.46,444.66L444.76,441.76Z" fill="#aa6ae4"/><path d="M453.70,445.61L456.40,448.51L453.70,451.41L451.00,448.51Z" fill="#aa6ae4"/><path d="M459.94,446.50L462.64,449.40L459.94,452.30L457.24,449.40Z" fill="#aa6ae4"/><path d="M466.18,446.25L468.88,449.15L466.18,452.05L463.48,449.15Z" fill="#aa6ae4"/><path d="M472.42,446.50L475.12,449.40L472.42,452.30L469.72,449.40Z" fill="#aa6ae4"/><path d="M478.66,446.35L481.36,449.25L478.66,452.15L475.96,449.25Z" fill="#aa6ae4"/><path d="M484.90,446.35L487.60,449.25L484.90,452.15L482.20,449.25Z" fill="#aa6ae4"/><path d="M491.15,446.25L493.85,449.15L491.15,452.05L488.45,449.15Z" fill="#aa6ae4"/><path d="M497.39,446.11L500.09,449.01L497.39,451.91L494.69,449.01Z" fill="#aa6ae4"/><path d="M503.63,445.91L506.33,448.81L503.63,451.71L500.93,448.81Z" fill="#aa6ae4"/><path d="M509.87,445.61L512.57,448.51L509.87,451.41L507.17,448.51Z" fill="#aa6ae4"/><path d="M516.11,445.32L518.81,448.22L516.11,451.12L513.41,448.22Z" fill="#aa6ae4"/><path d="M522.35,445.02L525.05,447.92L522.35,450.82L519.65,447.92Z" fill="#aa6ae4"/><path d="M528.59,444.82L531.29,447.72L528.59,450.62L525.89,447.72Z" fill="#aa6ae4"/><path d="M534.84,444.82L537.54,447.72L534.84,450.62L532.14,447.72Z" fill="#aa6ae4"/><path d="M541.08,445.02L543.78,447.92L541.08,450.82L538.38,447.92Z" fill="#aa6ae4"/><path d="M547.32,445.32L550.02,448.22L547.32,451.12L544.62,448.22Z" fill="#aa6ae4"/><path d="M553.56,445.71L556.26,448.61L553.56,451.51L550.86,448.61Z" fill="#aa6ae4"/><path d="M559.80,446.01L562.50,448.91L559.80,451.81L557.10,448.91Z" fill="#aa6ae4"/><path d="M566.04,446.25L568.74,449.15L566.04,452.05L563.34,449.15Z" fill="#aa6ae4"/><path d="M572.28,446.40L574.98,449.30L572.28,452.20L569.58,449.30Z" fill="#aa6ae4"/><path d="M578.53,446.50L581.23,449.40L578.53,452.30L575.83,449.40Z" fill="#aa6ae4"/><path d="M584.77,446.50L587.47,449.40L584.77,452.30L582.07,449.40Z" fill="#aa6ae4"/><path d="M591.01,446.50L593.71,449.40L591.01,452.30L588.31,449.40Z" fill="#aa6ae4"/><path d="M597.25,446.50L599.95,449.40L597.25,452.30L594.55,449.40Z" fill="#aa6ae4"/><path d="M603.49,446.50L606.19,449.40L603.49,452.30L600.79,449.40Z" fill="#aa6ae4"/><path d="M609.73,446.50L612.43,449.40L609.73,452.30L607.03,449.40Z" fill="#aa6ae4"/><path d="M615.97,446.50L618.67,449.40L615.97,452.30L613.27,449.40Z" fill="#aa6ae4"/><path d="M622.21,446.50L624.91,449.40L622.21,452.30L619.51,449.40Z" fill="#aa6ae4"/><path d="M628.46,446.50L631.16,449.40L628.46,452.30L625.76,449.40Z" fill="#aa6ae4"/><path d="M634.70,446.50L637.40,449.40L634.70,452.30L632.00,449.40Z" fill="#aa6ae4"/><path d="M640.94,446.50L643.64,449.40L640.94,452.30L638.24,449.40Z" fill="#aa6ae4"/></g></g>
<path d="M91.80,12.5 L91.80,449.30 L647.38,449.30" fill="none" stroke="#141414" stroke-width="2.3" stroke-linejoin="miter" stroke-linecap="square"/>
<line x1="91.80" y1="395.16" x2="96.20" y2="395.16" stroke="#141414" stroke-width="2.2"/>
<line x1="91.80" y1="340.52" x2="100.80" y2="340.52" stroke="#141414" stroke-width="2.2"/>
<line x1="91.80" y1="285.88" x2="96.20" y2="285.88" stroke="#141414" stroke-width="2.2"/>
<line x1="91.80" y1="231.24" x2="100.80" y2="231.24" stroke="#141414" stroke-width="2.2"/>
<line x1="91.80" y1="176.60" x2="96.20" y2="176.60" stroke="#141414" stroke-width="2.2"/>
<line x1="91.80" y1="121.96" x2="100.80" y2="121.96" stroke="#141414" stroke-width="2.2"/>
<line x1="91.80" y1="67.32" x2="96.20" y2="67.32" stroke="#141414" stroke-width="2.2"/>
<line x1="91.80" y1="12.68" x2="100.80" y2="12.68" stroke="#141414" stroke-width="2.2"/>
<line x1="184.28" y1="449.30" x2="184.28" y2="440.80" stroke="#141414" stroke-width="1.9"/>
<line x1="276.86" y1="449.30" x2="276.86" y2="440.80" stroke="#141414" stroke-width="1.9"/>
<line x1="369.44" y1="449.30" x2="369.44" y2="440.80" stroke="#141414" stroke-width="1.9"/>
<line x1="462.02" y1="449.30" x2="462.02" y2="440.80" stroke="#141414" stroke-width="1.9"/>
<line x1="554.60" y1="449.30" x2="554.60" y2="440.80" stroke="#141414" stroke-width="1.9"/>
<line x1="647.18" y1="449.30" x2="647.18" y2="440.80" stroke="#141414" stroke-width="1.9"/>
<rect x="473.5" y="30.5" width="168" height="184.5" fill="#fff" stroke="#8a8a8a" stroke-width="1.3"/>
<line x1="477.8" y1="50.60" x2="544" y2="50.60" stroke="#9c9c9c" stroke-width="1.7"/>
<rect x="508.67" y="48.47" width="4.26" height="4.26" fill="#383838"/>
<line x1="477.8" y1="86.60" x2="544" y2="86.60" stroke="#f4a2a2" stroke-width="1.7"/>
<circle cx="510.80" cy="86.60" r="2.46" fill="#ee3030"/>
<line x1="477.8" y1="122.60" x2="544" y2="122.60" stroke="#9ebcf2" stroke-width="1.7"/>
<path d="M510.80,119.46L514.09,124.48L507.51,124.48Z" fill="#2066e0"/>
<line x1="477.8" y1="158.60" x2="544" y2="158.60" stroke="#9cd4b8" stroke-width="1.7"/>
<path d="M510.80,161.74L514.09,156.72L507.51,156.72Z" fill="#22a062"/>
<line x1="477.8" y1="194.60" x2="544" y2="194.60" stroke="#d2b2f4" stroke-width="1.7"/>
<path d="M510.80,191.35L513.82,194.60L510.80,197.85L507.78,194.60Z" fill="#aa6ae4"/>
</g>
<use href="#all" filter="url(#bl)" opacity="0.45"/>
<text transform="translate(82.1,458.70) scale(1,1.06)" text-anchor="end">0</text>
<text transform="translate(82.1,349.42) scale(1,1.06)" text-anchor="end">200</text>
<text transform="translate(82.1,240.14) scale(1,1.06)" text-anchor="end">400</text>
<text transform="translate(82.1,130.86) scale(1,1.06)" text-anchor="end">600</text>
<text transform="translate(82.1,21.58) scale(1,1.06)" text-anchor="end">800</text>
<text transform="translate(92.00,481.7) scale(1,1.06)" text-anchor="middle">0.01</text>
<text transform="translate(184.58,481.7) scale(1,1.06)" text-anchor="middle">0.1</text>
<text transform="translate(277.16,481.7) scale(1,1.06)" text-anchor="middle">1</text>
<text transform="translate(369.74,481.7) scale(1,1.06)" text-anchor="middle">10</text>
<text transform="translate(462.32,481.7) scale(1,1.06)" text-anchor="middle">100</text>
<text transform="translate(554.90,481.7) scale(1,1.06)" text-anchor="middle">1000</text>
<text transform="translate(647.48,481.7) scale(1,1.06)" text-anchor="middle">10000</text>
<text transform="translate(551.0,59.60) scale(1,1.05)" style="font-size:28.8px">SF=0%</text>
<text transform="translate(551.0,95.60) scale(1,1.05)" style="font-size:28.8px">SF=1%</text>
<text transform="translate(551.0,131.60) scale(1,1.05)" style="font-size:28.8px">SF=2%</text>
<text transform="translate(551.0,167.60) scale(1,1.05)" style="font-size:28.8px">SF=3%</text>
<text transform="translate(551.0,203.60) scale(1,1.05)" style="font-size:28.8px">SF=4%</text>
<text transform="translate(369.8,527.5) scale(1,0.97)" text-anchor="middle"><tspan font-style="italic">T</tspan><tspan font-size="18.8" dy="7.6">2</tspan><tspan dy="-7.6">/ms</tspan></text>
<text transform="translate(21.0,243.8) rotate(-90) scale(0.86,1.0) skewX(-10)" font-style="italic">A</text>
<text transform="translate(21.0,245.8) rotate(-90) scale(1,1.04)" x="18.5" y="7.6" style="font-size:20.8px">S</text>
</svg>
</body></html>
